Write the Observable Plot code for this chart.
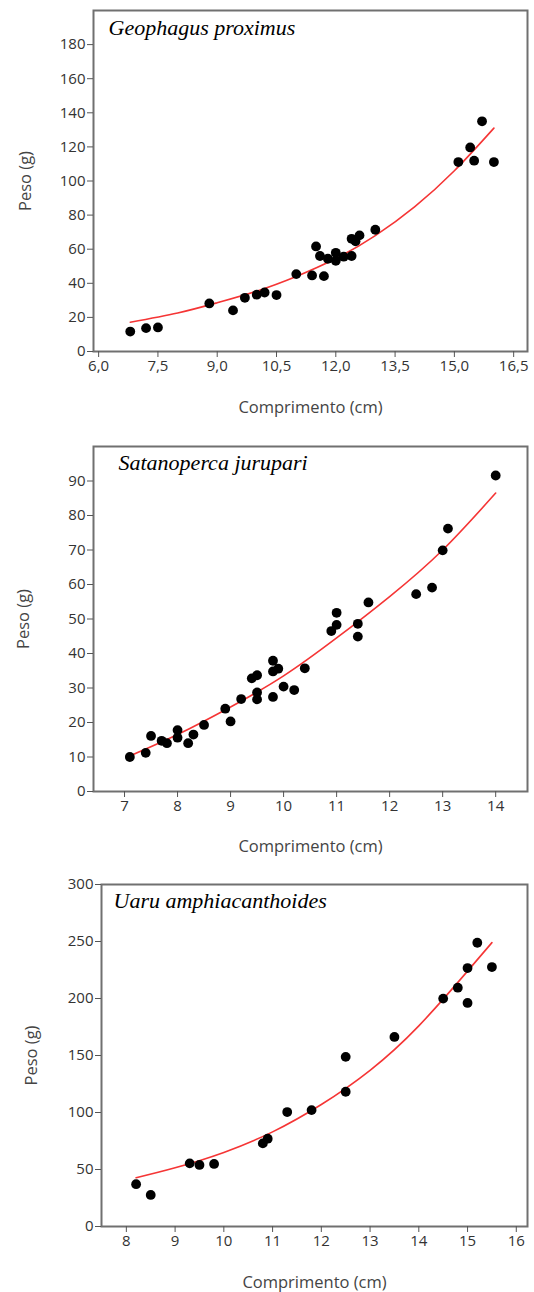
<!DOCTYPE html>
<html><head><meta charset="utf-8">
<script src="https://cdn.jsdelivr.net/npm/d3@7"></script>
<script src="https://cdn.jsdelivr.net/npm/@observablehq/plot@0.6"></script>
<style>
body{margin:0;background:#fff;}
#wrap{position:relative;width:534px;height:1292px;overflow:hidden;background:#fff;}
.panel{position:absolute;left:0;width:534px;overflow:hidden;}
</style></head><body><div id="wrap"></div>
<script>
// ---- Geophagus proximus ----
const gpTitle = "Geophagus proximus";
const gpLength = [6.8, 7.2, 7.5, 8.8, 9.4, 9.7, 10.0, 10.2, 10.5, 11.0, 11.4, 11.5, 11.6, 11.7, 11.8, 12.0, 12.0, 12.2, 12.4, 12.4, 12.5, 12.6, 13.0, 15.1, 15.4, 15.5, 15.7, 16.0];
const gpWeight = [11.7, 13.7, 14.1, 28.2, 24.1, 31.5, 33.3, 34.6, 33.1, 45.4, 44.6, 61.6, 56.0, 44.2, 54.4, 57.9, 53.2, 55.6, 56.0, 66.1, 64.6, 68.1, 71.4, 111.1, 119.7, 111.9, 135.0, 111.1];
const gpFitLength = [6.8, 8, 9, 10, 11, 12, 13, 14, 15, 16];
const gpFitWeight = [17.2, 22.6, 28.6, 35.4, 44, 54.5, 68, 85, 106, 131];
const gpXTicks = [6, 7.5, 9, 10.5, 12, 13.5, 15, 16.5];
const gpYTicks = [0, 20, 40, 60, 80, 100, 120, 140, 160, 180];

// ---- Satanoperca jurupari ----
const sjTitle = "Satanoperca jurupari";
const sjLength = [7.1, 7.4, 7.5, 7.7, 7.8, 8.0, 8.0, 8.2, 8.3, 8.5, 8.9, 9.0, 9.2, 9.4, 9.5, 9.5, 9.5, 9.8, 9.8, 9.9, 9.8, 10.0, 10.2, 10.4, 10.9, 11.0, 11.0, 11.4, 11.4, 11.6, 12.5, 12.8, 13.0, 13.1, 14.0];
const sjWeight = [10.0, 11.2, 16.1, 14.7, 14.0, 17.8, 15.6, 14.0, 16.5, 19.3, 24.0, 20.3, 26.8, 32.8, 33.7, 28.7, 26.7, 37.9, 34.8, 35.6, 27.4, 30.4, 29.4, 35.7, 46.5, 48.3, 51.8, 48.6, 44.9, 54.8, 57.2, 59.1, 69.9, 76.2, 91.6];
const sjFitLength = [7.1, 8, 9, 10, 11, 12, 13, 14];
const sjFitWeight = [10.3, 16.5, 24.5, 33.5, 44.5, 56.5, 70, 86.5];
const sjXTicks = [7, 8, 9, 10, 11, 12, 13, 14];
const sjYTicks = [0, 10, 20, 30, 40, 50, 60, 70, 80, 90];

// ---- Uaru amphiacanthoides ----
const uaTitle = "Uaru amphiacanthoides";
const uaLength = [8.2, 8.5, 9.3, 9.5, 9.8, 10.8, 10.9, 11.3, 11.8, 12.5, 12.5, 13.5, 14.5, 14.8, 15.0, 15.0, 15.2, 15.5];
const uaWeight = [37.1, 27.7, 55.4, 54.0, 54.9, 72.9, 77.0, 100.4, 102.1, 148.8, 118.2, 166.3, 199.9, 209.5, 226.7, 196.1, 248.9, 227.6];
const uaFitLength = [8.2, 9, 10, 11, 12, 13, 14, 15, 15.5];
const uaFitWeight = [42.8, 51.5, 65, 83, 107, 137, 176, 224, 249];
const uaXTicks = [8, 9, 10, 11, 12, 13, 14, 15, 16];
const uaYTicks = [0, 50, 100, 150, 200, 250, 300];

const xLabel = "Comprimento (cm)";
const yLabel = "Peso (g)";

const comma = d => d3.format(".1f")(d).replace(".", ",");

function panel(o) {
  const pts = o.len.map((x, i) => ({x, y: o.wt[i]}));
  const fit = o.fitLen.map((x, i) => ({x, y: o.fitWt[i]}));
  const chart = Plot.plot({
    width: 534,
    height: o.height,
    marginTop: o.mt, marginBottom: o.mb, marginLeft: o.ml, marginRight: o.mr,
    style: {fontFamily: "'Open Sans', sans-serif", fontSize: "15px", background: "#fff"},
    x: {domain: o.xDomain, label: null},
    y: {domain: o.yDomain, label: null},
    marks: [
      Plot.line(fit, {x: "x", y: "y", curve: "natural", stroke: "#f53535", strokeWidth: 1.6}),
      Plot.dot(pts, {x: "x", y: "y", r: 4.9, fill: "#000", stroke: "none"}),
      Plot.frame({stroke: "#707070", strokeWidth: 2}),
      Plot.axisX({ticks: o.xTicks, tickFormat: o.xFormat || (d => String(d)), tickSize: 6, tickPadding: 3, stroke: "#555", fill: "#333", label: null}),
      Plot.axisY({ticks: o.yTicks, tickFormat: d => String(d), tickSize: 6, tickPadding: 2, stroke: "#555", fill: "#333", label: null}),
      Plot.text([o.title], {frameAnchor: "top-left", dx: o.tdx, dy: o.tdy, textAnchor: "start", lineAnchor: "top", fontFamily: "'Liberation Serif', 'Times New Roman', serif", fontStyle: "italic", fontSize: 22, fill: "#000"}),
      Plot.text([xLabel], {frameAnchor: "bottom", dy: o.xldy, lineAnchor: "middle", fontSize: 16.5, fill: "#444"}),
      Plot.text([yLabel], {frameAnchor: "left", dx: o.yldx, rotate: -90, textAnchor: "middle", lineAnchor: "middle", fontSize: 16.5, fill: "#444"})
    ]
  });
  const div = document.createElement("div");
  div.className = "panel";
  div.style.top = o.top + "px";
  div.style.height = o.clip + "px";
  div.appendChild(chart);
  document.getElementById("wrap").appendChild(div);
}

panel({title: gpTitle, len: gpLength, wt: gpWeight, fitLen: gpFitLength, fitWt: gpFitWeight,
  xDomain: [5.87, 16.85], yDomain: [0, 200], xTicks: gpXTicks, yTicks: gpYTicks, xFormat: comma,
  top: 0, height: 425, clip: 425, mt: 10, mb: 74, ml: 93, mr: 7, tdx: 15, tdy: 9, xldy: 56, yldx: -68});

panel({title: sjTitle, len: sjLength, wt: sjWeight, fitLen: sjFitLength, fitWt: sjFitWeight,
  xDomain: [6.415, 14.6], yDomain: [0, 100], xTicks: sjXTicks, yTicks: sjYTicks,
  top: 430, height: 432, clip: 432, mt: 16, mb: 71, ml: 93, mr: 7, tdx: 25, tdy: 8, xldy: 55, yldx: -70});

panel({title: uaTitle, len: uaLength, wt: uaWeight, fitLen: uaFitLength, fitWt: uaFitWeight,
  xDomain: [7.49, 16.23], yDomain: [0, 300], xTicks: uaXTicks, yTicks: uaYTicks,
  top: 862, height: 430, clip: 430, mt: 22, mb: 66, ml: 101, mr: 7, tdx: 12, tdy: 8, xldy: 56, yldx: -70});
</script></body></html>
